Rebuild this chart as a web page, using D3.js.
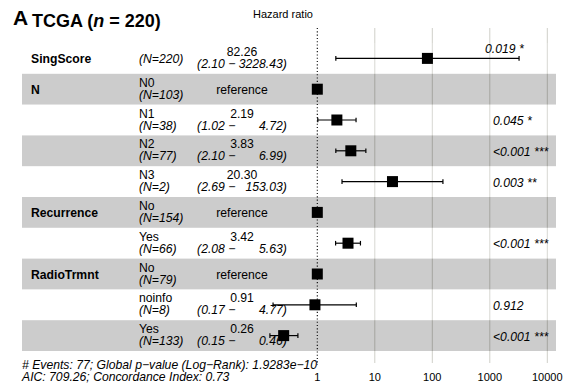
<html>
<head>
<script src="https://d3js.org/d3.v7.min.js"></script>
<style>
  body { margin: 0; background: #fff; }
  text { font-family: "Liberation Sans", Arial, sans-serif; }
</style>
</head>
<body>
<script>
// data
var varNames = ["SingScore", "N", "", "", "", "Recurrence", "", "RadioTrmnt", "", ""];
var levels   = ["", "N0", "N1", "N2", "N3", "No", "Yes", "No", "noinfo", "Yes"];
var counts   = [220, 103, 38, 77, 2, 154, 66, 79, 8, 133];
var hr       = [82.26, 1, 2.19, 3.83, 20.30, 1, 3.42, 1, 0.91, 0.26];
var ciLow    = [2.10, null, 1.02, 2.10, 2.69, null, 2.08, null, 0.17, 0.15];
var ciHigh   = [3228.43, null, 4.72, 6.99, 153.03, null, 5.63, null, 4.77, 0.46];
var pLabels  = ["0.019 *", "", "0.045 *", "<0.001 ***", "0.003 **", "", "<0.001 ***", "", "0.912", "<0.001 ***"];
var xTicks   = [1, 10, 100, 1000, 10000];
var footer   = ["# Events: 77; Global p\u2212value (Log\u2212Rank): 1.9283e\u221210",
                "AIC: 709.26; Concordance Index: 0.73"];

var W = 566, H = 385;
var svg = d3.select("body").append("svg")
    .attr("width", W)
    .attr("height", H);

var x = d3.scaleLog().domain([1, 10000]).range([317.3, 547.3]);
var y = d3.scaleBand().domain(d3.range(hr.length)).range([43, 351]);
var rowH = y.bandwidth();
var cy = function(i){ return y(i) + rowH / 2; };

var bandLeft = 22, bandRight = 556;
var fs = 12.2;

// grid lines (drawn under the translucent bands)
svg.selectAll(".grid").data(xTicks.slice(1)).enter()
    .append("line")
    .attr("x1", function(d){ return x(d); })
    .attr("x2", function(d){ return x(d); })
    .attr("y1", 28).attr("y2", 363)
    .attr("stroke", "#cfcfc8")
    .attr("stroke-width", 1);

// alternating bands
svg.selectAll(".band").data(d3.range(hr.length)).enter()
    .append("rect")
    .attr("x", bandLeft)
    .attr("y", function(i){ return y(i); })
    .attr("width", bandRight - bandLeft)
    .attr("height", rowH)
    .attr("fill", function(i){ return i % 2 ? "#000" : "#fff"; })
    .attr("fill-opacity", 0.2);

// reference line at HR = 1
svg.append("line")
    .attr("x1", x(1)).attr("x2", x(1))
    .attr("y1", 28).attr("y2", 365)
    .attr("stroke", "#000")
    .attr("stroke-width", 1.1)
    .attr("stroke-dasharray", "1.1,2.2");

// confidence intervals
var ciRows = d3.range(hr.length).filter(function(i){ return ciLow[i] !== null; });
var capH = 4.6;
var g = svg.append("g").attr("stroke", "#000").attr("stroke-width", 1.2);
ciRows.forEach(function(i){
    g.append("line")
        .attr("x1", x(ciLow[i])).attr("x2", x(ciHigh[i]))
        .attr("y1", cy(i)).attr("y2", cy(i));
    [ciLow[i], ciHigh[i]].forEach(function(v){
        g.append("line")
            .attr("x1", x(v)).attr("x2", x(v))
            .attr("y1", cy(i) - capH / 2).attr("y2", cy(i) + capH / 2);
    });
});

// point estimates
var sq = 11;
svg.selectAll(".pt").data(d3.range(hr.length)).enter()
    .append("rect")
    .attr("x", function(i){ return x(hr[i]) - sq / 2; })
    .attr("y", function(i){ return cy(i) - sq / 2; })
    .attr("width", sq).attr("height", sq)
    .attr("fill", "#000");

function txt(xp, yp, s, opts){
    opts = opts || {};
    return svg.append("text")
        .attr("x", xp).attr("y", yp)
        .attr("font-size", opts.size || fs)
        .attr("font-weight", opts.bold ? "bold" : null)
        .attr("font-style", opts.italic ? "italic" : null)
        .attr("text-anchor", opts.anchor || "start")
        .attr("xml:space", "preserve")
        .style("white-space", "pre")
        .attr("fill", "#000")
        .text(s);
}

// pad high CI values like R's format()
var hiStr = ciHigh.map(function(v){ return v === null ? null : v.toFixed(2); });
var hiW = d3.max(hiStr, function(s){ return s ? s.length : 0; });
function pad(s, w){ while (s.length < w) s = "\u2007" + s; return s; }

var up = -2.5, down = 9.5, mid = 5;
d3.range(hr.length).forEach(function(i){
    var c = cy(i);
    if (varNames[i]) txt(31, c + mid, varNames[i], {bold: true});
    if (levels[i]) {
        txt(139, c + up, levels[i]);
        txt(139, c + down, "(N=" + counts[i] + ")", {italic: true});
    } else {
        txt(139, c + mid, "(N=" + counts[i] + ")", {italic: true});
    }
    if (ciLow[i] === null) {
        txt(242, c + mid, "reference", {anchor: "middle"});
    } else {
        txt(242, c + up, hr[i].toFixed(2), {anchor: "middle"});
        txt(242, c + down, "(" + ciLow[i].toFixed(2) + " \u2212 " + pad(hiStr[i], hiW) + ")",
            {anchor: "middle", italic: true});
    }
    if (pLabels[i]) {
        if (levels[i]) txt(493, c + 5, pLabels[i], {italic: true});
        else txt(485, c - 5.5, pLabels[i], {italic: true});
    }
});

// x axis labels
svg.selectAll(".tick").data(xTicks).enter()
    .append("text")
    .attr("x", function(d){ return x(d); })
    .attr("y", 381)
    .attr("font-size", 11)
    .attr("text-anchor", "middle")
    .text(function(d){ return d; });

// axis title
txt(283, 18, "Hazard ratio", {anchor: "middle", size: 11});

// title
txt(13, 25, "A", {bold: true, size: 21});
var t = txt(32, 27, "", {bold: true, size: 18});
t.append("tspan").text("TCGA (");
t.append("tspan").attr("font-style", "italic").text("n");
t.append("tspan").text(" = 220)");

// footer
footer.forEach(function(s, k){
    txt(22, 369 + k * 12, s, {italic: true, size: fs});
});
</script>
</body>
</html>
